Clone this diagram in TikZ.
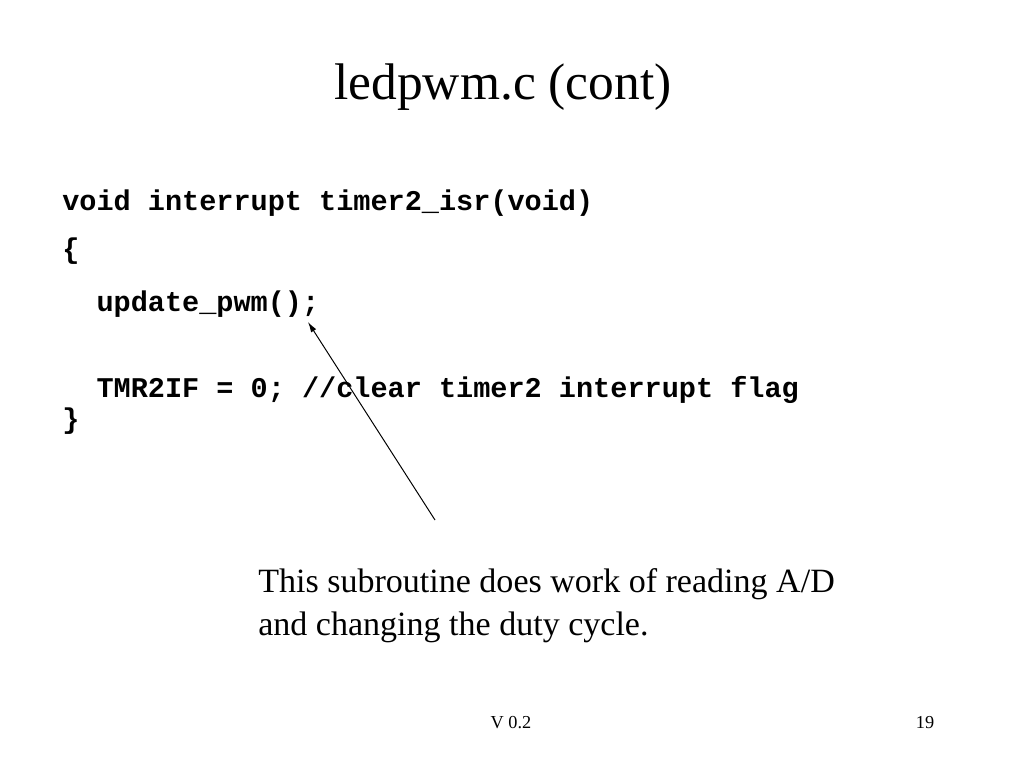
\documentclass[tikz,border=0pt]{standalone}
\usepackage{fontspec}
\setmainfont{Liberation Serif}
\setmonofont{Liberation Mono}
\usetikzlibrary{arrows.meta}
\tikzset{
	codeline/.style={anchor=base west, inner sep=0pt, font=\fontsize{20.3}{24}\selectfont\ttfamily\bfseries},
	noteline/.style={anchor=base west, inner sep=0pt, font=\fontsize{24.2}{29}\selectfont},
	footline/.style={anchor=base, inner sep=0pt, font=\fontsize{13}{15}\selectfont}
}

\begin{document}
\begin{tikzpicture}[>={Latex[length=2.6mm,width=1.5mm]}, x=0.025cm, y=-0.025cm]
	\useasboundingbox (0,0) rectangle (1024,768);
%	\draw[gray!50, dashed, step=100] (0,0) grid (1024,768);
	\node[anchor=base, inner sep=0pt, font=\fontsize{36.6}{44}\selectfont] (title) at (503,100) {ledpwm.c (cont)};
	
	% code
	\node[codeline] (isr) at (62,210) {void interrupt timer2\_isr(void)};
	\node[codeline] (open) at (62,258) {\{};
	\node[codeline] (upd) at (62,311) {\ \ update\_pwm();};
	\node[codeline] (clr) at (62,397) {\ \ TMR2IF = 0; //clear timer2 interrupt flag};
	\node[codeline] (close) at (62,428) {\}};
	
	% note
	\node[noteline] (note1) at (258,592) {This subroutine does work of reading A/D};
	\node[noteline] (note2) at (258,635) {and changing the duty cycle.};
	\coordinate (tail) at (435,520);
	\coordinate (head) at (308,322);
	\draw[->, line width=.7pt] (tail) -- (head);
	
	\node[footline] (ver) at (511,728) {V 0.2};
	\node[footline] (page) at (925,728) {19};
\end{tikzpicture}
\end{document}
